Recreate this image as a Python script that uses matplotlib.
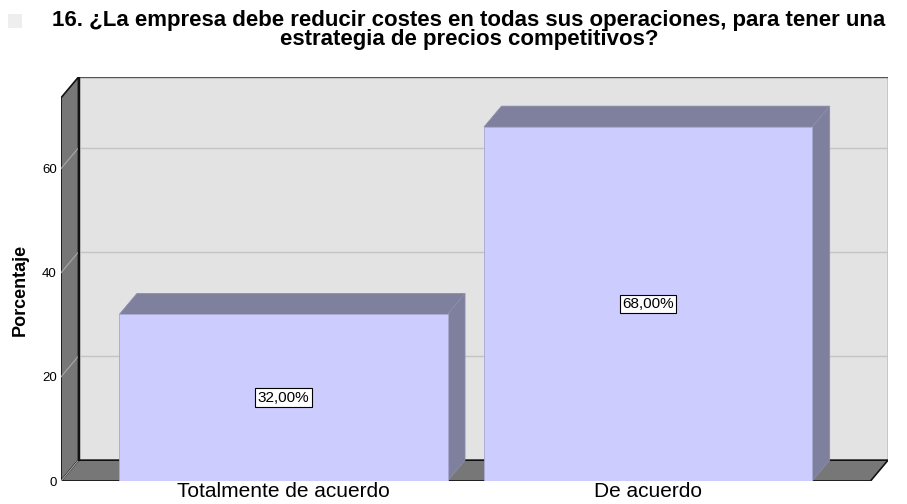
import matplotlib
matplotlib.use("Agg")
import matplotlib.pyplot as plt
from matplotlib.patches import Polygon, Rectangle

# Chart data
categories = ["Totalmente de acuerdo", "De acuerdo"]
percentages = [32.0, 68.0]
value_labels = ["32,00%", "68,00%"]
y_ticks = [0, 20, 40, 60]
title = ("16. ¿La empresa debe reducir costes en todas sus operaciones, para tener una\n"
         "estrategia de precios competitivos?")
y_label = "Porcentaje"

# pseudo-3D geometry (data units)
bar_width = 0.9
x_lo, x_hi = -0.61, 1.61
y_top = 73.6
depth_x, depth_y = 0.048, 4.0

front_col = "#ccccff"
shade_col = "#7f7f9e"
wall_col = "#e3e3e3"
slab_col = "#777777"
grid_col = "#c4c4c4"

plt.rcParams["font.family"] = ["Liberation Sans", "DejaVu Sans"]

fig = plt.figure(figsize=(9.07, 5.04), dpi=100)
ax = fig.add_axes([61 / 907, 23 / 504, (888 - 61) / 907, (427 - 23) / 504])
ax.set_xlim(x_lo, x_hi + depth_x)
ax.set_ylim(0, y_top + depth_y)
for s in ax.spines.values():
    s.set_visible(False)
ax.set_facecolor("none")


def poly(pts, **kw):
    ax.add_patch(Polygon(pts, closed=True, **kw))


# back wall
poly([(x_lo + depth_x, depth_y), (x_hi + depth_x, depth_y),
      (x_hi + depth_x, y_top + depth_y), (x_lo + depth_x, y_top + depth_y)],
     facecolor=wall_col, edgecolor="#555555", linewidth=1.0, zorder=1)

# grid on back wall and left wall
for t in y_ticks[1:]:
    ax.plot([x_lo + depth_x, x_hi + depth_x], [t + depth_y, t + depth_y],
            color=grid_col, linewidth=1.0, zorder=2)

# left wall
poly([(x_lo, 0), (x_lo + depth_x, depth_y), (x_lo + depth_x, y_top + depth_y), (x_lo, y_top)],
     facecolor=slab_col, edgecolor="#111111", linewidth=1.2, zorder=3)
for t in y_ticks[1:]:
    ax.plot([x_lo, x_lo + depth_x], [t, t + depth_y], color="#a8a8a8", linewidth=0.8, zorder=3)
ax.plot([x_lo, x_lo + depth_x], [0, depth_y], color="#a8a8a8", linewidth=0.8, zorder=3.5)

# floor
poly([(x_lo, 0), (x_hi, 0), (x_hi + depth_x, depth_y), (x_lo + depth_x, depth_y)],
     facecolor=slab_col, edgecolor="#111111", linewidth=1.2, zorder=3)
ax.plot([x_lo + depth_x, x_lo + depth_x], [depth_y, y_top + depth_y], color="#111111",
        linewidth=1.6, zorder=3.6)

# bars
for i, (v, lab) in enumerate(zip(percentages, value_labels)):
    l, r = i - bar_width / 2, i + bar_width / 2
    poly([(l, v), (r, v), (r + depth_x, v + depth_y), (l + depth_x, v + depth_y)],
         facecolor=shade_col, edgecolor="#8c8cae", linewidth=0.6, zorder=4)
    poly([(r, 0), (r + depth_x, depth_y), (r + depth_x, v + depth_y), (r, v)],
         facecolor=shade_col, edgecolor="#8c8cae", linewidth=0.6, zorder=4)
    ax.add_patch(Rectangle((l, 0), bar_width, v, facecolor=front_col,
                           edgecolor="#a8a8d0", linewidth=0.6, zorder=5))
    ax.text(i, v / 2, lab, ha="center", va="center", fontsize=11, zorder=6,
            bbox=dict(boxstyle="square,pad=0.15", facecolor="white",
                      edgecolor="black", linewidth=0.8))

ax.set_yticks(y_ticks)
ax.set_yticklabels([str(t) for t in y_ticks], fontsize=9.5)
ax.set_xticks(range(len(categories)))
ax.set_xticklabels(categories, fontsize=15)
ax.tick_params(axis="both", length=0)
ax.tick_params(axis="y", pad=3)
ax.tick_params(axis="x", pad=0.5)

fig.text(20 / 907, 1 - 290 / 504, y_label, rotation=90, ha="center", va="center",
         fontsize=13, fontweight="bold")
fig.text(469 / 907, 1 - 30 / 504, title, ha="center", va="center", fontsize=16,
         fontweight="bold", multialignment="center", linespacing=0.85)

# faded image placeholder next to the title
fig.patches.append(Rectangle((8 / 907, 1 - 28 / 504), 14 / 907, 14 / 504,
                             transform=fig.transFigure, facecolor="#eeeeee",
                             edgecolor="none"))

fig.savefig("out.png", dpi=100, facecolor="white")
